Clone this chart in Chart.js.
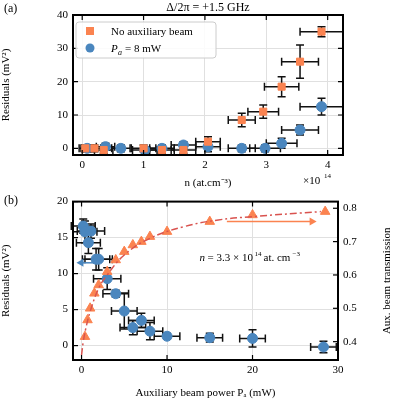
<!DOCTYPE html>
<html>
<head>
<script src="https://cdn.jsdelivr.net/npm/chart.js@4"></script>
<style>
body { margin: 0; background: #fff; }
#wrap { position: relative; width: 400px; height: 400px; }
canvas { position: absolute; left: 0; }
</style>
</head>
<body>
<div id="wrap">
  <canvas id="top" width="400" height="190" style="top:0;width:400px;height:190px"></canvas>
  <canvas id="bot" width="400" height="210" style="top:190px;width:400px;height:210px"></canvas>
</div>
<script>
// panel (a): density in units of 1e14 at/cm3
const aNoAuxX = [0.05, 0.2, 0.35, 1.0, 1.3, 1.65, 2.05, 2.6, 2.95, 3.25, 3.55, 3.9];
const aNoAuxY = [0, 0, -0.5, 0, -0.5, -0.5, 2, 8.5, 11, 18.5, 26, 35];
const aNoAuxXErr = [0.1, 0.1, 0.15, 0.2, 0.2, 0.2, 0.2, 0.22, 0.25, 0.28, 0.3, 0.35];
const aNoAuxYErr = [1, 1, 1, 1, 1, 1, 1.5, 2, 2, 3, 5, 1.5];
const aAuxX = [0.08, 0.38, 0.63, 1.02, 1.3, 1.65, 2.05, 2.6, 2.98, 3.25, 3.55, 3.9];
const aAuxY = [0, 0.5, 0, -0.5, 0, 1, 0.5, 0, 0, 1.5, 5.5, 12.5];
const aAuxXErr = [0.1, 0.15, 0.15, 0.2, 0.2, 0.2, 0.2, 0.22, 0.25, 0.25, 0.3, 0.35];
const aAuxYErr = [1, 1, 1, 1, 1, 1, 1.5, 1, 1, 1.5, 1.5, 2.5];
const aXTicks = [0, 1, 2, 3, 4];
const aYTicks = [0, 10, 20, 30, 40];

// panel (b): auxiliary beam power in mW
const bPowX = [0.2, 0.4, 0.8, 1.1, 1.7, 2.0, 3.0, 4.0, 5.0, 6.0, 7.0, 8.0, 10, 15, 20, 28.3];
const bResY = [16.6, 15.8, 14.3, 15.9, 12.0, 12.0, 9.3, 7.2, 4.8, 2.5, 3.5, 2.0, 1.3, 1.1, 1.0, -0.2];
const bXErr = [1.4, 1.4, 1.4, 1.6, 1.6, 1.6, 1.6, 1.5, 1.5, 1.5, 1.5, 1.5, 1.5, 1.5, 1.5, 1.5];
const bYErr = [1, 1.5, 1.5, 1, 1.5, 1.5, 1.5, 0.5, 2.5, 1, 1, 1.2, 0.4, 0.6, 1.2, 0.8];
const bTransX = [0.4, 0.7, 1.0, 1.5, 2.0, 3.0, 4.0, 5.0, 6.0, 7.0, 8.0, 10, 15, 20, 28.5];
const bTransY = [0.415, 0.465, 0.5, 0.545, 0.57, 0.61, 0.645, 0.67, 0.69, 0.70, 0.715, 0.73, 0.76, 0.78, 0.79];
const bFitX = [0, 0.2, 0.5, 1, 2, 3, 5, 8, 12, 16, 20, 28];
const bFitY = [0.36, 0.40, 0.44, 0.49, 0.56, 0.60, 0.66, 0.71, 0.745, 0.765, 0.775, 0.79];
const bXTicks = [0, 10, 20, 30];
const bYTicks = [0, 5, 10, 15, 20];
const bY2Ticks = [0.4, 0.5, 0.6, 0.7, 0.8];

const ORANGE = '#fb8350';
const BLUE = '#4a86be';
const FONT = 'Liberation Serif';
Chart.defaults.font.family = FONT;
Chart.defaults.font.size = 11;
Chart.defaults.color = '#000';
Chart.defaults.animation = false;

const pts = (xs, ys) => xs.map((x, i) => ({ x: x, y: ys[i] }));
const fixedTicks = list => s => { s.ticks = list.map(v => ({ value: v })); };

const errorBars = {
  id: 'errorBars',
  beforeDatasetsDraw(chart) {
    const ctx = chart.ctx;
    ctx.save();
    ctx.strokeStyle = '#111';
    ctx.lineWidth = 1.5;
    chart.data.datasets.forEach(ds => {
      if (!ds.xErr) return;
      const xs = chart.scales.x, ys = chart.scales[ds.yAxisID || 'y'];
      ds.data.forEach((p, i) => {
        const cx = xs.getPixelForValue(p.x), cy = ys.getPixelForValue(p.y);
        const x0 = xs.getPixelForValue(p.x - ds.xErr[i]), x1 = xs.getPixelForValue(p.x + ds.xErr[i]);
        const y0 = ys.getPixelForValue(p.y - ds.yErr[i]), y1 = ys.getPixelForValue(p.y + ds.yErr[i]);
        ctx.beginPath();
        ctx.moveTo(x0, cy); ctx.lineTo(x1, cy);
        ctx.moveTo(x0, cy - 4); ctx.lineTo(x0, cy + 4);
        ctx.moveTo(x1, cy - 4); ctx.lineTo(x1, cy + 4);
        ctx.moveTo(cx, y0); ctx.lineTo(cx, y1);
        ctx.moveTo(cx - 4, y0); ctx.lineTo(cx + 4, y0);
        ctx.moveTo(cx - 4, y1); ctx.lineTo(cx + 4, y1);
        ctx.stroke();
      });
    });
    ctx.restore();
  }
};

const frame = {
  id: 'frame',
  afterDraw(chart) {
    const a = chart.chartArea, ctx = chart.ctx;
    ctx.save();
    ctx.strokeStyle = '#000';
    ctx.lineWidth = 2;
    ctx.strokeRect(a.left, a.top, a.right - a.left, a.bottom - a.top);
    ctx.lineWidth = 1.2;
    const xs = chart.scales.x;
    xs.ticks.forEach(t => {
      const px = xs.getPixelForValue(t.value);
      ctx.beginPath();
      ctx.moveTo(px, a.bottom); ctx.lineTo(px, a.bottom - 5);
      ctx.moveTo(px, a.top); ctx.lineTo(px, a.top + 5);
      ctx.stroke();
    });
    Object.values(chart.scales).filter(s => s.axis === 'y').forEach(s => {
      s.ticks.forEach(t => {
        const py = s.getPixelForValue(t.value);
        ctx.beginPath();
        if (s.position === 'left') {
          ctx.moveTo(a.left, py); ctx.lineTo(a.left + 5, py);
          if (!chart.scales.y2) { ctx.moveTo(a.right, py); ctx.lineTo(a.right - 5, py); }
        } else {
          ctx.moveTo(a.right, py); ctx.lineTo(a.right - 5, py);
        }
        ctx.stroke();
      });
    });
    ctx.restore();
  }
};

function fixWidth(w) { return s => { s.width = w; }; }
function fixHeight(h) { return s => { s.height = h; }; }
const gridStyle = { color: '#e0e0e0', drawTicks: false };

// ---- panel (a)
new Chart(document.getElementById('top'), {
  type: 'scatter',
  data: {
    datasets: [
      { label: 'No auxiliary beam', data: pts(aNoAuxX, aNoAuxY), xErr: aNoAuxXErr, yErr: aNoAuxYErr,
        pointStyle: 'rect', pointRadius: 5, backgroundColor: ORANGE, borderColor: ORANGE },
      { label: 'P_a = 8 mW', data: pts(aAuxX, aAuxY), xErr: aAuxXErr, yErr: aAuxYErr,
        pointStyle: 'circle', pointRadius: 5, backgroundColor: BLUE, borderColor: BLUE }
    ]
  },
  options: {
    responsive: false,
    layout: { padding: { top: 15, right: 57, left: 0, bottom: 0 } },
    plugins: { legend: { display: false }, tooltip: { enabled: false } },
    scales: {
      x: { min: -0.15, max: 4.25, grid: gridStyle, border: { display: false },
        afterBuildTicks: fixedTicks(aXTicks),
        ticks: { padding: 4 }, afterFit: fixHeight(35),
        title: { display: true, text: 'n (at.cm⁻³)', padding: 0 } },
      y: { min: -2, max: 40, grid: gridStyle, border: { display: false },
        afterBuildTicks: fixedTicks(aYTicks),
        ticks: { padding: 5 }, afterFit: fixWidth(73),
        title: { display: true, text: 'Residuals (mV²)', padding: 0 } }
    }
  },
  plugins: [errorBars, frame, {
    id: 'annA',
    afterDraw(chart) {
      const ctx = chart.ctx, a = chart.chartArea;
      ctx.save();
      ctx.fillStyle = '#000';
      ctx.font = '12px ' + FONT;
      ctx.textAlign = 'left';
      ctx.fillText('(a)', 4, 12);
      ctx.textAlign = 'center';
      ctx.fillText('Δ/2π = +1.5 GHz', (a.left + a.right) / 2, 11);
      ctx.font = '11px ' + FONT;
      ctx.textAlign = 'left';
      ctx.fillText('×10', 303, 184);
      ctx.font = '7px ' + FONT;
      ctx.fillText('14', 324, 178);
      // legend
      ctx.fillStyle = 'rgba(255,255,255,0.85)';
      ctx.strokeStyle = '#ccc';
      ctx.lineWidth = 1;
      ctx.beginPath();
      ctx.roundRect(a.left + 3, a.top + 7, 140, 36, 3);
      ctx.fill(); ctx.stroke();
      ctx.fillStyle = ORANGE;
      ctx.fillRect(a.left + 13, a.top + 12, 8, 8);
      ctx.fillStyle = BLUE;
      ctx.beginPath(); ctx.arc(a.left + 17, a.top + 33, 4.5, 0, 2 * Math.PI); ctx.fill();
      ctx.fillStyle = '#000';
      ctx.font = '11px ' + FONT;
      ctx.fillText('No auxiliary beam', a.left + 38, a.top + 20);
      ctx.font = 'italic 11px ' + FONT;
      ctx.fillText('P', a.left + 38, a.top + 37);
      ctx.font = 'italic 8px ' + FONT;
      ctx.fillText('a', a.left + 45, a.top + 40);
      ctx.font = '11px ' + FONT;
      ctx.fillText('= 8 mW', a.left + 52, a.top + 37);
      ctx.restore();
    }
  }]
});

// ---- panel (b)
new Chart(document.getElementById('bot'), {
  type: 'scatter',
  data: {
    datasets: [
      { type: 'line', data: pts(bFitX, bFitY), yAxisID: 'y2', borderColor: '#d9534f', borderWidth: 1.5,
        borderDash: [7, 3, 2, 3], pointRadius: 0, tension: 0.4, fill: false },
      { data: pts(bTransX, bTransY), yAxisID: 'y2', pointStyle: 'triangle', pointRadius: 5.5,
        backgroundColor: ORANGE, borderColor: ORANGE },
      { data: pts(bPowX, bResY), yAxisID: 'y', xErr: bXErr, yErr: bYErr,
        pointStyle: 'circle', pointRadius: 5, backgroundColor: BLUE, borderColor: BLUE }
    ]
  },
  options: {
    responsive: false,
    layout: { padding: { top: 10, left: 0, right: 0, bottom: 0 } },
    plugins: { legend: { display: false }, tooltip: { enabled: false } },
    scales: {
      x: { min: -1, max: 30, grid: gridStyle, border: { display: false },
        afterBuildTicks: fixedTicks(bXTicks),
        ticks: { padding: 4 }, afterFit: fixHeight(40),
        title: { display: true, text: 'Auxiliary beam power Pₐ (mW)', padding: 0 } },
      y: { position: 'left', min: -2, max: 20, grid: gridStyle, border: { display: false },
        afterBuildTicks: fixedTicks(bYTicks),
        ticks: { padding: 5 }, afterFit: fixWidth(73),
        title: { display: true, text: 'Residuals (mV²)', padding: 0 } },
      y2: { position: 'right', min: 0.345, max: 0.82, grid: { display: false, drawTicks: false }, border: { display: false },
        afterBuildTicks: fixedTicks(bY2Ticks),
        ticks: { padding: 5, callback: v => v.toFixed(1) }, afterFit: fixWidth(62) }
    }
  },
  plugins: [errorBars, frame, {
    id: 'annB',
    afterDraw(chart) {
      const ctx = chart.ctx, xs = chart.scales.x, y = chart.scales.y, y2 = chart.scales.y2, a = chart.chartArea;
      ctx.save();
      ctx.fillStyle = '#000';
      ctx.font = '12px ' + FONT;
      ctx.fillText('(b)', 4, 14);
      // right axis title, reading bottom to top
      ctx.save();
      ctx.translate(390, (a.top + a.bottom) / 2);
      ctx.rotate(-Math.PI / 2);
      ctx.textAlign = 'center';
      ctx.font = '11px ' + FONT;
      ctx.fillText('Aux. beam transmission', 0, 0);
      ctx.restore();
      function arrow(x0, x1, py, col) {
        const p0 = xs.getPixelForValue(x0), p1 = xs.getPixelForValue(x1);
        const d = Math.sign(p1 - p0);
        ctx.strokeStyle = col; ctx.fillStyle = col; ctx.lineWidth = 1.5;
        ctx.beginPath(); ctx.moveTo(p0, py); ctx.lineTo(p1 - d * 6, py); ctx.stroke();
        ctx.beginPath(); ctx.moveTo(p1, py); ctx.lineTo(p1 - d * 7, py - 4); ctx.lineTo(p1 - d * 7, py + 4); ctx.fill();
      }
      arrow(1.6, -0.6, y.getPixelForValue(11.5), BLUE);
      arrow(17, 27.5, y2.getPixelForValue(0.76), ORANGE);
      ctx.fillStyle = '#000';
      ctx.font = 'italic 11px ' + FONT;
      const tx = xs.getPixelForValue(13.8), ty = y.getPixelForValue(11.8);
      ctx.fillText('n', tx, ty);
      ctx.font = '11px ' + FONT;
      ctx.fillText('= 3.3 × 10', tx + 8, ty);
      ctx.font = '7px ' + FONT;
      ctx.fillText('14', tx + 55, ty - 5);
      ctx.font = '11px ' + FONT;
      ctx.fillText('at. cm', tx + 64, ty);
      ctx.font = '7px ' + FONT;
      ctx.fillText('−3', tx + 93, ty - 5);
      ctx.restore();
    }
  }]
});
</script>
</body>
</html>
